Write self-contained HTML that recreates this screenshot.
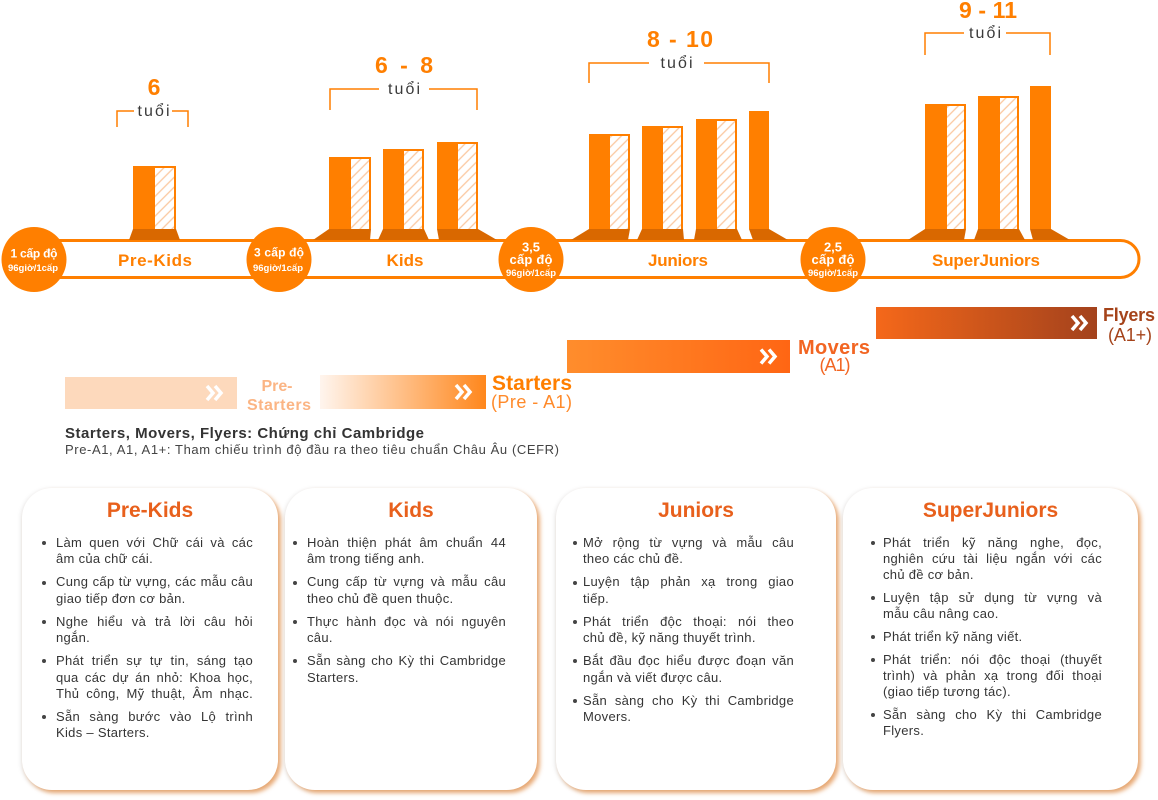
<!DOCTYPE html>
<html>
<head>
<meta charset="utf-8">
<style>
html,body{margin:0;padding:0;background:#fff;}
body{width:1158px;height:800px;position:relative;overflow:hidden;font-family:"Liberation Sans","DejaVu Sans",sans-serif;}
svg text{font-family:"Liberation Sans","DejaVu Sans",sans-serif;}
.card{position:absolute;top:488px;height:302px;background:#fff;border-radius:30px;
  box-shadow:3px 3px 4px rgba(222,128,48,0.65),-1px 1px 5px rgba(0,0,0,0.10);}
.ttl{position:absolute;left:0;right:0;top:11px;text-align:center;font-weight:bold;font-size:21px;line-height:24px;color:#e8601c;}
.list{position:absolute;top:47px;font-size:13px;line-height:16.4px;color:#353535;letter-spacing:0.3px;}
.it{position:relative;margin-bottom:6.6px;}
.it:before{content:"";position:absolute;left:-14px;top:6.2px;width:4px;height:4px;border-radius:50%;background:#444;}
.c3 .it:before{left:-10px;}
.c4 .it:before{left:-12px;}
.c4 .it{margin-bottom:7px;}
.j{text-align:justify;text-align-last:justify;}
</style>
</head>
<body>
<svg width="1158" height="470" viewBox="0 0 1158 470" style="position:absolute;left:0;top:0">
<defs>
  <pattern id="h" width="7" height="7" patternUnits="userSpaceOnUse" patternTransform="rotate(45)">
    <rect width="7" height="7" fill="#fff"/>
    <line x1="3.5" y1="0" x2="3.5" y2="7" stroke="#fbc8a0" stroke-width="1.3"/>
  </pattern>
  <linearGradient id="gB" x1="0" y1="0" x2="1" y2="0">
    <stop offset="0" stop-color="#fff5ee"/><stop offset="1" stop-color="#ff871c"/>
  </linearGradient>
  <linearGradient id="gC" x1="0" y1="0" x2="1" y2="0">
    <stop offset="0" stop-color="#ff8d2c"/><stop offset="1" stop-color="#ff6614"/>
  </linearGradient>
  <linearGradient id="gD" x1="0" y1="0" x2="1" y2="0">
    <stop offset="0" stop-color="#f5681a"/><stop offset="1" stop-color="#a3421c"/>
  </linearGradient>
</defs>

<!-- age labels -->
<g fill="#ff7f00" font-weight="bold" font-size="23" text-anchor="middle">
  <text x="154" y="95">6</text>
  <text x="404" y="73" textLength="58">6 - 8</text>
  <text x="680" y="47" textLength="66">8 - 10</text>
  <text x="988" y="18" textLength="58">9 - 11</text>
</g>
<g fill="#3a3a3a" font-size="16" text-anchor="middle">
  <text x="153.5" y="116" textLength="32">tuổi</text>
  <text x="404" y="94" textLength="32">tuổi</text>
  <text x="676.5" y="68" textLength="32">tuổi</text>
  <text x="985" y="38" textLength="32">tuổi</text>
</g>
<g stroke="#ff7f00" stroke-width="1.5" fill="none">
  <path d="M117,127 V111 H134 M172,111 H188 V127"/>
  <path d="M330,110 V89 H379 M429,89 H477 V110"/>
  <path d="M589,83 V63 H649 M704,63 H769 V83"/>
  <path d="M925,55 V33 H964 M1006,33 H1050 V55"/>
</g>

<!-- timeline pill -->
<rect x="18" y="240.5" width="1121" height="37" rx="18.5" fill="#fff" stroke="#ff7f00" stroke-width="3"/>

<!-- bars -->
<g fill="#ff7f00">
  <rect x="133" y="166" width="43" height="63"/>
  <rect x="329" y="157" width="42" height="72"/>
  <rect x="383" y="149" width="41" height="80"/>
  <rect x="437" y="142" width="41" height="87"/>
  <rect x="589" y="134" width="41" height="95"/>
  <rect x="642" y="126" width="41" height="103"/>
  <rect x="696" y="119" width="41" height="110"/>
  <rect x="749" y="111" width="20" height="118"/>
  <rect x="925" y="104" width="41" height="125"/>
  <rect x="978" y="96" width="41" height="133"/>
  <rect x="1030" y="86" width="21" height="143"/>
</g>
<g fill="url(#h)">
  <rect x="155" y="168" width="19" height="61"/>
  <rect x="351" y="159" width="18" height="70"/>
  <rect x="404" y="151" width="18" height="78"/>
  <rect x="458" y="144" width="18" height="85"/>
  <rect x="610" y="136" width="18" height="93"/>
  <rect x="663" y="128" width="18" height="101"/>
  <rect x="717" y="121" width="18" height="108"/>
  <rect x="947" y="106" width="17" height="123"/>
  <rect x="1000" y="98" width="17" height="131"/>
</g>
<g fill="#d96800">
  <polygon points="133,229 176,229 180,240 129,240"/>
  <polygon points="329,229 371,229 370,240 313,240"/>
  <polygon points="383,229 424,229 429,240 378,240"/>
  <polygon points="437,229 478,229 497,240 439,240"/>
  <polygon points="589,229 630,229 628,240 571,240"/>
  <polygon points="642,229 683,229 684,240 637,240"/>
  <polygon points="696,229 737,229 742,240 694,240"/>
  <polygon points="749,229 769,229 788,240 753,240"/>
  <polygon points="925,229 966,229 964,240 908,240"/>
  <polygon points="978,229 1019,229 1025,240 974,240"/>
  <polygon points="1030,229 1051,229 1070,240 1033,240"/>
</g>

<!-- timeline labels -->
<g fill="#ff7f00" font-weight="bold" font-size="17" text-anchor="middle">
  <text x="155" y="266" textLength="74">Pre-Kids</text>
  <text x="405" y="266" textLength="37">Kids</text>
  <text x="678" y="266" textLength="60">Juniors</text>
  <text x="986" y="266" textLength="108">SuperJuniors</text>
</g>

<!-- circles -->
<g fill="#ff7f00">
  <circle cx="34" cy="259.5" r="32.5"/>
  <circle cx="279" cy="259.5" r="32.5"/>
  <circle cx="531" cy="259.5" r="32.5"/>
  <circle cx="833" cy="259.5" r="32.5"/>
</g>
<g fill="#fff" font-weight="bold" text-anchor="middle">
  <text x="34" y="257.5" font-size="12" textLength="47">1 cấp độ</text>
  <text x="33" y="271" font-size="9.5" textLength="50">96giờ/1cấp</text>
  <text x="279" y="256.5" font-size="12" textLength="50">3 cấp độ</text>
  <text x="278" y="271" font-size="9.5" textLength="50">96giờ/1cấp</text>
  <text x="531" y="251.5" font-size="13">3,5</text>
  <text x="531" y="264" font-size="13" textLength="43">cấp độ</text>
  <text x="531" y="276" font-size="9.5" textLength="50">96giờ/1cấp</text>
  <text x="833" y="251.5" font-size="13">2,5</text>
  <text x="833" y="264" font-size="13" textLength="43">cấp độ</text>
  <text x="833" y="276" font-size="9.5" textLength="50">96giờ/1cấp</text>
</g>

<!-- progression bars -->
<rect x="65" y="377" width="172" height="32" fill="#fdd9bc"/>
<rect x="320" y="375" width="166" height="34" fill="url(#gB)"/>
<rect x="567" y="340" width="223" height="33" fill="url(#gC)"/>
<rect x="876" y="307" width="221" height="32" fill="url(#gD)"/>
<g stroke="#fff" stroke-width="3.5" fill="none" stroke-linecap="butt" stroke-linejoin="miter">
  <path d="M207,386 L213,393 L207,400 M215,386 L221,393 L215,400"/>
  <path d="M456,385 L462,392 L456,399 M464,385 L470,392 L464,399"/>
  <path d="M761,349.5 L767,356.5 L761,363.5 M769,349.5 L775,356.5 L769,363.5"/>
  <path d="M1072,316 L1078,323 L1072,330 M1080,316 L1086,323 L1080,330"/>
</g>

<g font-weight="bold" font-size="16" fill="#fbb584" text-anchor="middle">
  <text x="277" y="391" textLength="31">Pre-</text>
  <text x="279" y="410" textLength="64">Starters</text>
</g>
<text x="492" y="390" font-weight="bold" font-size="21" fill="#ff7f00" textLength="80">Starters</text>
<text x="491" y="408" font-size="18" fill="#ff8a2a" textLength="81">(Pre - A1)</text>
<text x="798" y="354" font-weight="bold" font-size="20" fill="#f26522" textLength="72">Movers</text>
<text x="835" y="371" font-size="18" fill="#f26522" text-anchor="middle" textLength="31">(A1)</text>
<text x="1103" y="321" font-weight="bold" font-size="18" fill="#a5431a" textLength="52">Flyers</text>
<text x="1130" y="341" font-size="18" fill="#a5431a" text-anchor="middle" textLength="44">(A1+)</text>

<text x="65" y="438" font-weight="bold" font-size="15" fill="#333" textLength="359">Starters, Movers, Flyers: Chứng chỉ Cambridge</text>
<text x="65" y="454" font-size="13" fill="#444" textLength="494">Pre-A1, A1, A1+: Tham chiếu trình độ đầu ra theo tiêu chuẩn Châu Âu (CEFR)</text>
</svg>

<!-- Card 1 -->
<div class="card" style="left:22px;width:256px;">
  <div class="ttl">Pre-Kids</div>
  <div class="list" style="left:34px;width:197px;">
    <div class="it"><div class="j">Làm quen với Chữ cái và các</div><div>âm của chữ cái.</div></div>
    <div class="it"><div class="j">Cung cấp từ vựng, các mẫu câu</div><div>giao tiếp đơn cơ bản.</div></div>
    <div class="it"><div class="j">Nghe hiểu và trả lời câu hỏi</div><div>ngắn.</div></div>
    <div class="it"><div class="j">Phát triển sự tự tin, sáng tạo</div><div class="j">qua các dự án nhỏ: Khoa học,</div><div class="j">Thủ công, Mỹ thuật, Âm nhạc.</div></div>
    <div class="it"><div class="j">Sẵn sàng bước vào Lộ trình</div><div>Kids – Starters.</div></div>
  </div>
</div>

<!-- Card 2 -->
<div class="card" style="left:285px;width:252px;">
  <div class="ttl">Kids</div>
  <div class="list" style="left:22px;width:199px;">
    <div class="it"><div class="j">Hoàn thiện phát âm chuẩn 44</div><div>âm trong tiếng anh.</div></div>
    <div class="it"><div class="j">Cung cấp từ vựng và mẫu câu</div><div>theo chủ đề quen thuộc.</div></div>
    <div class="it"><div class="j">Thực hành đọc và nói nguyên</div><div>câu.</div></div>
    <div class="it"><div class="j">Sẵn sàng cho Kỳ thi Cambridge</div><div>Starters.</div></div>
  </div>
</div>

<!-- Card 3 -->
<div class="card c3" style="left:556px;width:280px;">
  <div class="ttl">Juniors</div>
  <div class="list" style="left:27px;width:211px;">
    <div class="it"><div class="j">Mở rộng từ vựng và mẫu câu</div><div>theo các chủ đề.</div></div>
    <div class="it"><div class="j">Luyện tập phản xạ trong giao</div><div>tiếp.</div></div>
    <div class="it"><div class="j">Phát triển độc thoại: nói theo</div><div>chủ đề, kỹ năng thuyết trình.</div></div>
    <div class="it"><div class="j">Bắt đầu đọc hiểu được đoạn văn</div><div>ngắn và viết được câu.</div></div>
    <div class="it"><div class="j">Sẵn sàng cho Kỳ thi Cambridge</div><div>Movers.</div></div>
  </div>
</div>

<!-- Card 4 -->
<div class="card c4" style="left:843px;width:295px;">
  <div class="ttl">SuperJuniors</div>
  <div class="list" style="left:40px;width:219px;line-height:16px;">
    <div class="it"><div class="j">Phát triển kỹ năng nghe, đọc,</div><div class="j">nghiên cứu tài liệu ngắn với các</div><div>chủ đề cơ bản.</div></div>
    <div class="it"><div class="j">Luyện tập sử dụng từ vựng và</div><div>mẫu câu nâng cao.</div></div>
    <div class="it"><div>Phát triển kỹ năng viết.</div></div>
    <div class="it"><div class="j">Phát triển: nói độc thoại (thuyết</div><div class="j">trình) và phản xạ trong đối thoại</div><div>(giao tiếp tương tác).</div></div>
    <div class="it"><div class="j">Sẵn sàng cho Kỳ thi Cambridge</div><div>Flyers.</div></div>
  </div>
</div>
</body>
</html>
